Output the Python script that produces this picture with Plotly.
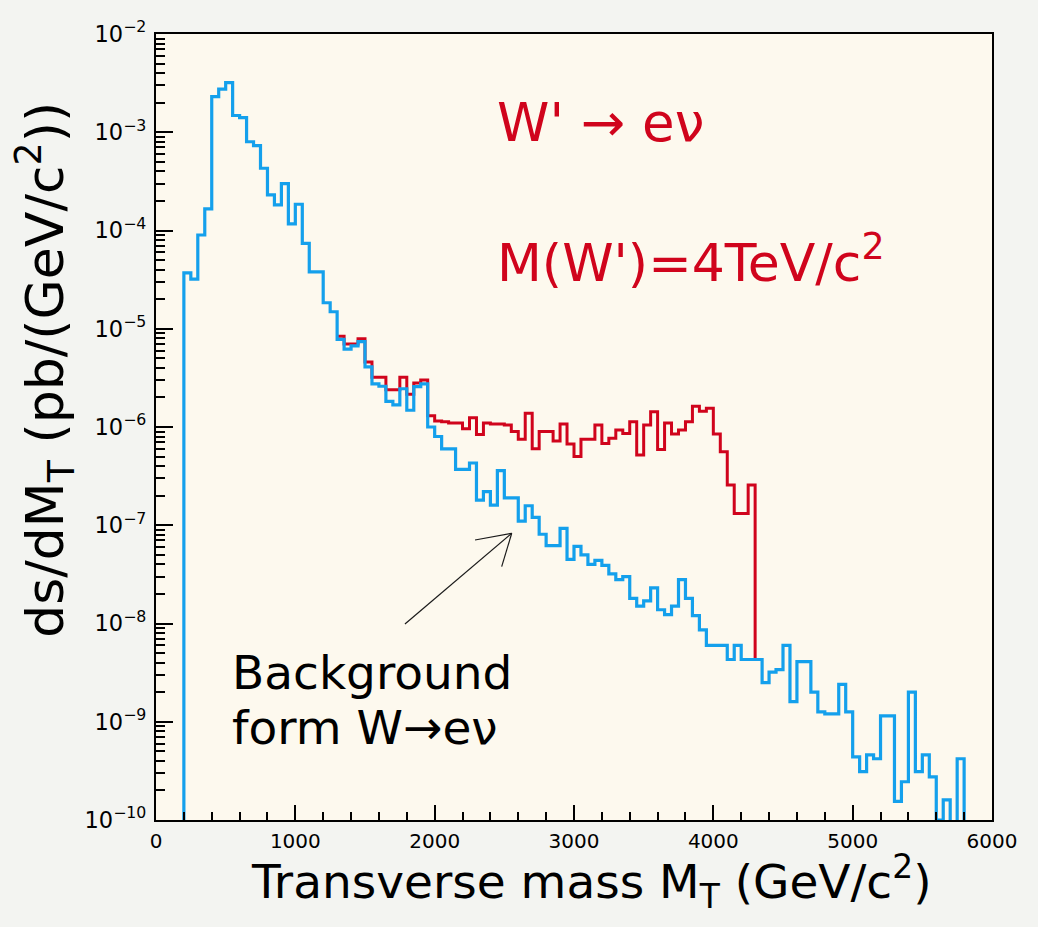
import plotly.graph_objects as go

# Histogram binning (GeV/c^2)
BIN_WIDTH = 50
BKG_START = 200
SIG_START = 1300

# Background W -> e nu, ds/dMT per 50 GeV bin from 200 to 5800
bkg_values = [
    3.7e-5, 3.2e-5, 9.0e-5, 1.66e-4, 2.3e-3, 2.75e-3, 3.2e-3, 1.48e-3, 1.41e-3, 8.0e-4,   # 200-650
    7.3e-4, 4.3e-4, 2.3e-4, 1.82e-4, 3.0e-4, 1.17e-4, 1.85e-4, 7.4e-5, 3.8e-5, 3.8e-5,    # 700-1150
    1.84e-5, 1.49e-5, 7.8e-6, 6.2e-6, 6.7e-6, 7.4e-6, 4.1e-6, 2.75e-6, 2.6e-6, 1.82e-6,  # 1200-1650
    1.68e-6, 2.45e-6, 1.48e-6, 2.57e-6, 2.75e-6, 1.0e-6, 8.0e-7, 6.0e-7, 6.0e-7, 3.7e-7,  # 1700-2150
    3.7e-7, 4.3e-7, 1.8e-7, 2.2e-7, 1.6e-7, 3.6e-7, 1.9e-7, 1.9e-7, 1.1e-7, 1.58e-7,      # 2200-2650
    1.2e-7, 8.1e-8, 6.2e-8, 6.2e-8, 9.3e-8, 4.5e-8, 6.1e-8, 5.0e-8, 4.0e-8, 4.4e-8,       # 2700-3150
    3.9e-8, 3.2e-8, 2.8e-8, 3.0e-8, 1.8e-8, 1.5e-8, 1.7e-8, 2.3e-8, 1.38e-8, 1.23e-8,     # 3200-3650
    1.5e-8, 2.8e-8, 1.8e-8, 1.2e-8, 8.6e-9, 6.0e-9, 6.0e-9, 6.0e-9, 4.3e-9, 6.0e-9,       # 3700-4150
    4.3e-9, 4.3e-9, 4.3e-9, 2.5e-9, 3.2e-9, 3.4e-9, 6.0e-9, 1.6e-9, 4.1e-9, 4.1e-9,       # 4200-4650
    2.0e-9, 1.26e-9, 1.2e-9, 1.2e-9, 2.4e-9, 1.26e-9, 4.4e-10, 3.1e-10, 4.6e-10, 4.2e-10, # 4700-5150
    1.15e-9, 1.15e-9, 1.55e-10, 2.45e-10, 2.0e-9, 3.1e-10, 4.6e-10, 2.75e-10, 1.0e-10, 1.6e-10,  # 5200-5650
    8.0e-11, 4.2e-10,                                                                      # 5700-5750
]

# W' (4 TeV) signal + background, per 50 GeV bin from 1300 to 4300
sig_values = [
    8.4e-6, 7.0e-6, 7.0e-6, 7.9e-6, 4.6e-6, 3.2e-6, 3.2e-6, 2.4e-6, 2.4e-6, 3.2e-6,      # 1300-1750
    2.15e-6, 2.8e-6, 3.0e-6, 1.3e-6, 1.15e-6, 1.13e-6, 1.1e-6, 1.1e-6, 9.6e-7, 1.24e-6,  # 1800-2250
    8.4e-7, 1.1e-6, 1.07e-6, 1.07e-6, 1.05e-6, 9.0e-7, 7.5e-7, 1.38e-6, 6.0e-7, 9.0e-7,  # 2300-2750
    9.0e-7, 7.2e-7, 1.07e-6, 6.7e-7, 5.0e-7, 7.5e-7, 7.5e-7, 1.05e-6, 6.8e-7, 7.7e-7,    # 2800-3250
    9.3e-7, 8.6e-7, 1.13e-6, 5.2e-7, 1.05e-6, 1.43e-6, 5.9e-7, 1.1e-6, 8.5e-7, 9.3e-7,   # 3300-3750
    1.13e-6, 1.63e-6, 1.45e-6, 1.55e-6, 8.5e-7, 5.6e-7, 2.57e-7, 1.32e-7, 1.32e-7, 2.57e-7,  # 3800-4250
]

Y_FLOOR = 1e-10
x_ticks = [0, 1000, 2000, 3000, 4000, 5000, 6000]

BLUE = "#14a0ec"
RED = "#d0041c"
PLOT_BG = "#fdf9ee"
PAPER_BG = "#f3f4f1"
FONT = "DejaVu Sans"

# Background histogram outline (starts and ends on the axis floor)
bkg_edges = [BKG_START + i * BIN_WIDTH for i in range(len(bkg_values) + 1)]
bkg_x = [bkg_edges[0]] + bkg_edges[:-1] + [bkg_edges[-1], bkg_edges[-1]]
bkg_y = [Y_FLOOR] + bkg_values + [bkg_values[-1], Y_FLOOR]

# Signal+background outline, dropping onto the background at its end
sig_edges = [SIG_START + i * BIN_WIDTH for i in range(len(sig_values) + 1)]
end_idx = (sig_edges[-1] - BKG_START) // BIN_WIDTH
sig_x = sig_edges[:-1] + [sig_edges[-1], sig_edges[-1]]
sig_y = sig_values + [sig_values[-1], bkg_values[end_idx]]

fig = go.Figure()
fig.add_trace(go.Scatter(x=sig_x, y=sig_y, mode="lines", line=dict(color=RED, width=3, shape="hv"),
                         showlegend=False, hoverinfo="skip"))
fig.add_trace(go.Scatter(x=bkg_x, y=bkg_y, mode="lines", line=dict(color=BLUE, width=3.2, shape="hv"),
                         showlegend=False, hoverinfo="skip"))

fig.update_xaxes(
    range=[0, 6000], tickvals=x_ticks, ticks="inside", ticklen=15, tickwidth=1.5, tickcolor="black",
    minor=dict(dtick=200, ticks="inside", ticklen=8, tickwidth=1.5, tickcolor="black"),
    showline=True, linewidth=2, linecolor="black", mirror=True, showgrid=False, zeroline=False,
    tickfont=dict(family=FONT, size=20, color="black"), ticklabelstandoff=2,
)
fig.update_yaxes(
    type="log", range=[-10, -2], dtick=1, exponentformat="power",
    ticks="inside", ticklen=17, tickwidth=1.5, tickcolor="black",
    minor=dict(dtick="D1", ticks="inside", ticklen=9, tickwidth=1.5, tickcolor="black", showgrid=False),
    showline=True, linewidth=2, linecolor="black", mirror=True, showgrid=False, zeroline=False,
    tickfont=dict(family=FONT, size=18, color="black"), ticklabelstandoff=4,
)

annotations = [
    dict(text="Transverse mass M<sub>T</sub> (GeV/c<sup>2</sup>)", xref="paper", yref="paper",
         x=0.520, y=-0.078, xanchor="center", yanchor="middle", showarrow=False,
         font=dict(family=FONT, size=47, color="black")),
    dict(text="ds/dM<sub>T</sub> (pb/(GeV/c<sup>2</sup>))", xref="paper", yref="paper",
         x=-0.133, y=0.5725, xanchor="center", yanchor="middle", textangle=-90, showarrow=False,
         font=dict(family=FONT, size=52, color="black")),
    dict(text="W' \u2192 e\u03bd", xref="paper", yref="paper", x=0.406, y=0.887,
         xanchor="left", yanchor="middle", showarrow=False,
         font=dict(family=FONT, size=53, color=RED)),
    dict(text="M(W')=4TeV/c<sup>2</sup>", xref="paper", yref="paper", x=0.406, y=0.714,
         xanchor="left", yanchor="middle", showarrow=False,
         font=dict(family=FONT, size=52, color=RED)),
    dict(text="Background", xref="paper", yref="paper", x=0.0885, y=0.188,
         xanchor="left", yanchor="middle", showarrow=False,
         font=dict(family=FONT, size=47, color="black")),
    dict(text="form W\u2192e\u03bd", xref="paper", yref="paper", x=0.0885, y=0.1177,
         xanchor="left", yanchor="middle", showarrow=False,
         font=dict(family=FONT, size=47, color="black")),
]

# Pointer arrow from the label to the background curve
head = (0.4255, 0.3648)
tail = (0.2978, 0.2494)
whiskers = [(0.3816, 0.3562), (0.4135, 0.3223)]
shapes = [dict(type="line", xref="paper", yref="paper", x0=tail[0], y0=tail[1], x1=head[0], y1=head[1],
               line=dict(color="#1a1a1a", width=1.2))]
for wx, wy in whiskers:
    shapes.append(dict(type="line", xref="paper", yref="paper", x0=head[0], y0=head[1], x1=wx, y1=wy,
                       line=dict(color="#1a1a1a", width=1.2)))

fig.update_layout(
    width=1038, height=927,
    margin=dict(l=156, r=46, t=34, b=107),
    paper_bgcolor=PAPER_BG, plot_bgcolor=PLOT_BG,
    annotations=annotations, shapes=shapes,
    font=dict(family=FONT, color="black"),
)

fig.write_html("out.html")
